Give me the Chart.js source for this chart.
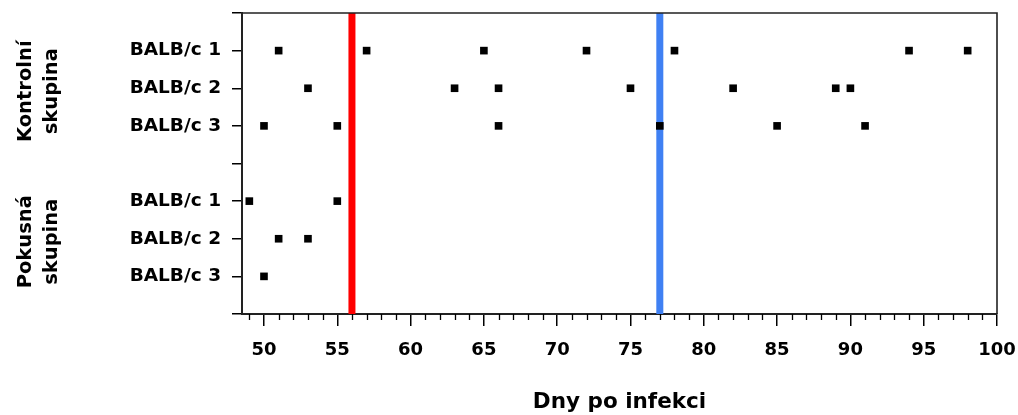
<!DOCTYPE html>
<html>
<head>
<meta charset="utf-8">
<script src="https://cdn.jsdelivr.net/npm/chart.js@4.4.1/dist/chart.umd.min.js"></script>
<style>
    body { margin: 0; background: #fff; }
    #wrap { width: 1018px; height: 415px; position: relative; }
</style>
</head>
<body>
<div id="wrap"><canvas id="myChart"></canvas></div>
<script>
// rows: 1-3 kontrolni skupina, 5-7 pokusna skupina (4 is an empty gap)
var kontrolni1 = [51, 57, 65, 72, 78, 94, 98];
var kontrolni2 = [53, 63, 66, 75, 82, 89, 90];
var kontrolni3 = [50, 55, 66, 77, 85, 91];
var pokusna1 = [49, 55];
var pokusna2 = [51, 53];
var pokusna3 = [50];

var yTickLabels = ['', 'BALB/c 1', 'BALB/c 2', 'BALB/c 3', '', 'BALB/c 1', 'BALB/c 2', 'BALB/c 3', ''];
var xTickValues = [50, 55, 60, 65, 70, 75, 80, 85, 90, 95, 100];
var xMinorValues = [49, 51, 52, 53, 54, 56, 57, 58, 59, 61, 62, 63, 64, 66, 67, 68, 69, 71, 72, 73, 74,
    76, 77, 78, 79, 81, 82, 83, 84, 86, 87, 88, 89, 91, 92, 93, 94, 96, 97, 98, 99];
var groupLabels = [['Kontrolní', 'skupina'], ['Pokusná', 'skupina']];
var groupRows = [2, 6];
var redLineDay = 56;
var blueLineDay = 77;
var xMin = 48.5, xMax = 100;

var font = '"DejaVu Sans", "Liberation Sans", Arial, sans-serif';

function rowPoints(days, row) {
    return days.map(function(d) { return { x: d, y: row }; });
}

function vline(day, color) {
    return {
        type: 'line',
        data: [{ x: day, y: 0 }, { x: day, y: 8 }],
        borderColor: color,
        borderWidth: 7,
        pointRadius: 0,
        order: 2
    };
}

var dotStyle = {
    pointStyle: 'rect',
    pointRadius: 5.4,
    pointBorderWidth: 0,
    backgroundColor: '#000',
    borderColor: '#000',
    showLine: false,
    order: 1
};

var datasets = [
    rowPoints(kontrolni1, 1), rowPoints(kontrolni2, 2), rowPoints(kontrolni3, 3),
    rowPoints(pokusna1, 5), rowPoints(pokusna2, 6), rowPoints(pokusna3, 7)
].map(function(pts) { return Object.assign({ data: pts }, dotStyle); });
datasets.push(vline(redLineDay, '#ff0000'));
datasets.push(vline(blueLineDay, '#3f80f3'));

// top/right frame, minor ticks and the rotated group labels
var extras = {
    id: 'extras',
    afterDraw: function(chart) {
        var ctx = chart.ctx;
        var a = chart.chartArea;
        var xs = chart.scales.x, ys = chart.scales.y;
        ctx.save();
        ctx.strokeStyle = '#222';
        ctx.lineWidth = 1.6;
        ctx.beginPath();
        ctx.moveTo(a.left, a.top);
        ctx.lineTo(a.right, a.top);
        ctx.lineTo(a.right, a.bottom);
        ctx.stroke();

        ctx.strokeStyle = '#000';
        ctx.lineWidth = 1.3;
        ctx.beginPath();
        xMinorValues.forEach(function(v) {
            var px = Math.round(xs.getPixelForValue(v)) + 0.5;
            ctx.moveTo(px, a.bottom);
            ctx.lineTo(px, a.bottom + 6);
        });
        ctx.stroke();

        ctx.fillStyle = '#000';
        ctx.font = 'bold 19.5px ' + font;
        ctx.textAlign = 'center';
        ctx.textBaseline = 'alphabetic';
        for (var i = 0; i < groupLabels.length; i++) {
            var yc = ys.getPixelForValue(groupRows[i]) + 3;
            ctx.save();
            ctx.translate(31, yc);
            ctx.rotate(-Math.PI / 2);
            ctx.fillText(groupLabels[i][0], 0, 0);
            ctx.fillText(groupLabels[i][1], 0, 26);
            ctx.restore();
        }
        ctx.restore();
    }
};

var ctx = document.getElementById('myChart').getContext('2d');
var myChart = new Chart(ctx, {
    type: 'scatter',
    data: { datasets: datasets },
    plugins: [extras],
    options: {
        responsive: true,
        maintainAspectRatio: false,
        animation: false,
        layout: { padding: { left: 0, right: 21, top: 13, bottom: 0 } },
        plugins: {
            legend: { display: false },
            tooltip: { enabled: false }
        },
        scales: {
            x: {
                type: 'linear',
                min: xMin,
                max: xMax,
                afterBuildTicks: function(scale) {
                    scale.ticks = xTickValues.map(function(v) { return { value: v }; });
                },
                afterFit: function(scale) {
                    scale.height = 101;
                    scale.paddingLeft = 0;
                    scale.paddingRight = 0;
                },
                grid: {
                    drawOnChartArea: false,
                    drawTicks: true,
                    tickLength: 12,
                    color: '#000',
                    lineWidth: 1.5
                },
                border: { display: true, color: '#222', width: 2 },
                ticks: {
                    color: '#000',
                    font: { family: font, size: 18, weight: 'bold' },
                    padding: 14,
                    maxRotation: 0,
                    autoSkip: false
                },
                title: {
                    display: true,
                    text: 'Dny po infekci',
                    color: '#000',
                    font: { family: font, size: 21.5, weight: 'bold' },
                    padding: { top: 0, bottom: 0 }
                }
            },
            y: {
                type: 'linear',
                min: 0,
                max: 8,
                reverse: true,
                afterBuildTicks: function(scale) {
                    scale.ticks = yTickLabels.map(function(l, i) { return { value: i }; });
                },
                afterFit: function(scale) {
                    scale.width = 242;
                    scale.paddingTop = 0;
                    scale.paddingBottom = 0;
                },
                grid: {
                    drawOnChartArea: false,
                    drawTicks: true,
                    tickLength: 10,
                    color: '#000',
                    lineWidth: 1.5
                },
                border: { display: true, color: '#222', width: 2 },
                ticks: {
                    color: '#000',
                    font: { family: font, size: 18.5, weight: 'bold' },
                    padding: 11,
                    autoSkip: false,
                    callback: function(value) { return yTickLabels[value]; }
                }
            }
        }
    }
});
</script>
</body>
</html>
